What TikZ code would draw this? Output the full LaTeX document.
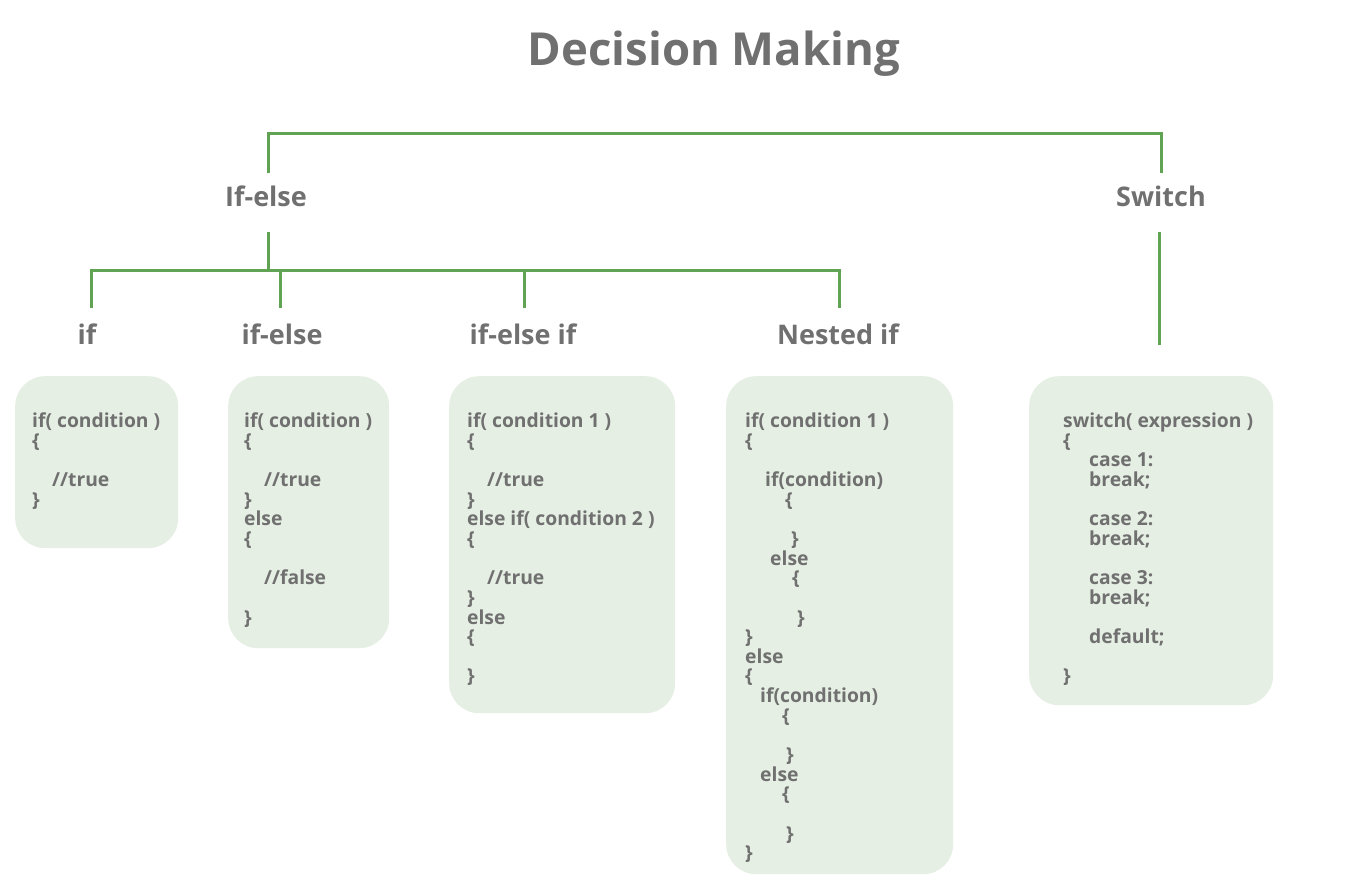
\documentclass[tikz,border=0pt]{standalone}
\usepackage{fontspec}
\setmainfont{Open Sans}
\definecolor{txtgray}{RGB}{112,112,112}
\definecolor{lngreen}{RGB}{95,163,83}
\definecolor{boxfill}{RGB}{229,239,227}
\tikzset{
  conn/.style={draw=lngreen, line width=3pt},
  title/.style={text=txtgray, font=\fontsize{45.5}{55}\selectfont\bfseries, anchor=base, inner sep=0},
  heading/.style={text=txtgray, font=\fontsize{27}{32}\selectfont\bfseries, anchor=base, inner sep=0},
  codebox/.style={fill=boxfill, rounded corners=30pt, anchor=north west, inner sep=0},
  codeline/.style={text=txtgray, font=\fontsize{19.3}{22}\selectfont\bfseries, anchor=base west, inner sep=0},
}
\newcommand{\codeat}[4]{%
  \foreach \ln/\ind/\txt in {#4}{%
    \node[codeline] (#1-\ln) at ({#2+\ind},{#3+\ln*19.65}) {\txt};
  }%
}
\begin{document}
\begin{tikzpicture}[x=1pt,y=-1pt]
\useasboundingbox[fill=white] (0,0) rectangle (1350,880);

\node[title] (ttl) at (714,66) {Decision Making};

\node[heading] (ifelse) at (266,207) {If-else};
\node[heading] (switch) at (1161,207) {Switch};

\node[heading] (lif) at (87,344) {if};
\node[heading] (lifelse) at (282,344) {if-else};
\node[heading] (lifelseif) at (523,344) {if-else if};
\node[heading] (lnested) at (838,344) {Nested if};

% connectors
\coordinate (a1) at (268,173);
\coordinate (a4) at (1161,173);
\coordinate (topy) at (0,134);
\draw[conn] (a1) |- (topy -| a4) -- (a4);

\coordinate (b1) at (268,232);
\coordinate (b2) at (268,270);
\draw[conn] (b1) -- (b2);
\coordinate (d1) at (91,308);
\coordinate (d2) at (280,308);
\coordinate (d3) at (524,308);
\coordinate (d4) at (839,308);
\draw[conn] (d1) |- (b2 -| d4) -- (d4);
\draw[conn] (d2) -- (d2 |- b2);
\draw[conn] (d3) -- (d3 |- b2);

\coordinate (s1) at (1159,232);
\coordinate (s2) at (1159,345);
\draw[conn] (s1) -- (s2);

% boxes
\node[codebox, minimum width=163pt, minimum height=172pt] (box1) at (15,376) {};
\node[codebox, minimum width=161pt, minimum height=272pt] (box2) at (228,376) {};
\node[codebox, minimum width=226pt, minimum height=337pt] (box3) at (449,376) {};
\node[codebox, minimum width=227pt, minimum height=498pt] (box4) at (726,376) {};
\node[codebox, minimum width=244pt, minimum height=329pt] (box5) at (1029,376) {};

\codeat{c1}{32}{427.5}{0/0/{if( condition )},1/0/\{,3/20/{//true},4/0/\}}
\codeat{c2}{244}{427.5}{0/0/{if( condition )},1/0/\{,3/20/{//true},4/0/\},5/0/else,6/0/\{,8/20/{//false},10/0/\}}
\codeat{c3}{467}{427.5}{0/0/{if( condition 1 )},1/0/\{,3/20/{//true},4/0/\},5/0/{else if( condition 2 )},6/0/\{,8/20/{//true},9/0/\},10/0/else,11/0/\{,13/0/\}}
\codeat{c4}{745}{427.5}{0/0/{if( condition 1 )},1/0/\{,3/20/{if(condition)},4/40/\{,6/46/\},7/25/else,8/47/\{,10/52/\},11/0/\},12/0/else,13/0/\{,14/15/{if(condition)},15/37/\{,17/41/\},18/15/else,19/37/\{,21/41/\},22/0/\}}
\codeat{c5}{1063}{427.5}{0/0/{switch( expression )},1/0/\{,2/26/{case 1:},3/26/{break;},5/26/{case 2:},6/26/{break;},8/26/{case 3:},9/26/{break;},11/26/{default;},13/0/\}}
\end{tikzpicture}
\end{document}
